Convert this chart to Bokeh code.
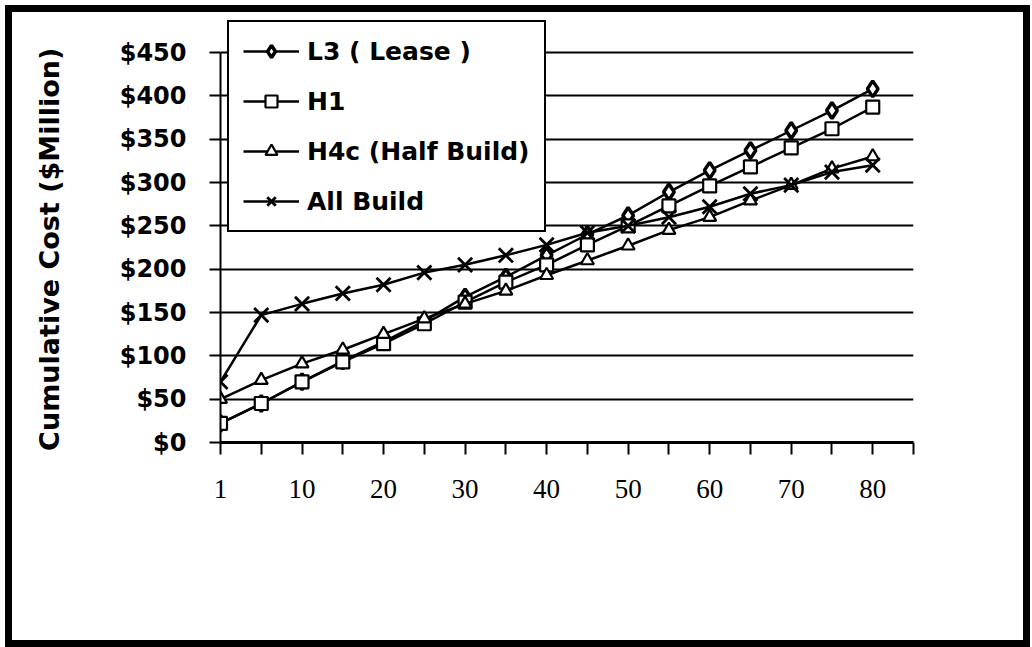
from bokeh.plotting import figure
from bokeh.models import Range1d, FixedTicker, Legend, LegendItem
from bokeh.embed import file_html
from bokeh.resources import INLINE

# ---- data ----
categories = [1, 5, 10, 15, 20, 25, 30, 35, 40, 45, 50, 55, 60, 65, 70, 75, 80]
tick_labels = ["1", "", "10", "", "20", "", "30", "", "40", "", "50", "", "60", "", "70", "", "80", ""]
l3_lease = [22, 45, 70, 94, 116, 140, 168, 191, 216, 240, 262, 289, 314, 337, 360, 383, 408]
h1 = [22, 45, 70, 93, 114, 137, 162, 185, 205, 228, 250, 273, 296, 318, 340, 362, 387]
h4c_half = [50, 72, 91, 107, 125, 143, 160, 175, 193, 210, 227, 245, 260, 279, 297, 316, 330]
all_build = [70, 147, 160, 172, 182, 196, 205, 216, 228, 242, 250, 260, 272, 287, 297, 312, 320]
y_ticks = [0, 50, 100, 150, 200, 250, 300, 350, 400, 450]
y_title = "Cumulative Cost ($Million)"

xs = list(range(len(categories)))
n_ticks = len(tick_labels)

W, H = 1025, 642
p = figure(width=W, height=H, output_backend="svg", toolbar_location=None,
           x_range=Range1d(0, n_ticks - 1), y_range=Range1d(0, 450 + 34 * 450 / 390),
           min_border_left=215, min_border_right=117, min_border_top=13, min_border_bottom=205)
p.styles = {"outline": "7px solid black", "outline-offset": "-7px",
            "margin-left": "5px", "margin-top": "5px"}
p.outline_line_color = None
p.background_fill_color = "white"
p.border_fill_alpha = 0

# grid
p.xgrid.grid_line_color = None
p.ygrid.grid_line_color = "black"
p.ygrid.grid_line_width = 2
p.ygrid.ticker = FixedTicker(ticks=y_ticks)

# y axis
p.yaxis.ticker = FixedTicker(ticks=y_ticks)
p.yaxis.bounds = (0, 450)
p.yaxis.major_label_overrides = {v: "${}".format(v) for v in y_ticks}
p.yaxis.major_label_text_font = "DejaVu Sans"
p.yaxis.major_label_text_font_style = "bold"
p.yaxis.major_label_text_font_size = "24px"
p.yaxis.major_label_text_color = "black"
p.yaxis.major_label_standoff = 23
p.yaxis.major_tick_out = 11
p.yaxis.major_tick_in = 0
p.yaxis.minor_tick_line_color = None
p.yaxis.major_tick_line_width = 2
p.yaxis.major_tick_line_color = "black"
p.yaxis.axis_line_width = 2
p.yaxis.axis_line_color = "black"
# trailing no-break spaces shift the visible title down to centre on the $0-$450 span
p.yaxis.axis_label = y_title + "\u00a0" * 4
p.yaxis.axis_label_text_font = "DejaVu Sans"
p.yaxis.axis_label_text_font_style = "bold"
p.yaxis.axis_label_text_font_size = "27px"
p.yaxis.axis_label_text_color = "black"
p.yaxis.axis_label_standoff = 52

# x axis
p.xaxis.ticker = FixedTicker(ticks=list(range(n_ticks)))
p.xaxis.major_label_overrides = {i: t for i, t in enumerate(tick_labels)}
p.xaxis.major_label_text_font = "Liberation Serif"
p.xaxis.major_label_text_font_style = "normal"
p.xaxis.major_label_text_font_size = "27px"
p.xaxis.major_label_text_color = "black"
p.xaxis.major_label_standoff = 25
p.xaxis.major_tick_out = 12
p.xaxis.major_tick_in = 0
p.xaxis.minor_tick_line_color = None
p.xaxis.major_tick_line_width = 2
p.xaxis.major_tick_line_color = "black"
p.xaxis.axis_line_width = 3
p.xaxis.axis_line_color = "black"

# series
series = [
    ("L3 ( Lease )", l3_lease, "diamond", 16, 3.5),
    ("H1", h1, "square", 13, 2.2),
    ("H4c (Half Build)", h4c_half, "triangle", 13, 2.2),
    ("All Build", all_build, "x", 20, 2.8),
]
items = []
for label, ys, marker, size, lw in series:
    ln = p.line(xs, ys, line_color="black", line_width=2.5)
    sc = p.scatter(xs, ys, marker=marker, size=size, fill_color="white",
                   line_color="black", line_width=lw)
    items.append(LegendItem(label=label, renderers=[ln, sc]))

legend = Legend(items=items, location=(7, 210))
legend.label_text_font = "DejaVu Sans"
legend.label_text_font_style = "bold"
legend.label_text_font_size = "25px"
legend.label_text_color = "black"
legend.glyph_width = 56
legend.glyph_height = 30
legend.label_standoff = 8
legend.spacing = 20
legend.padding = 14
legend.margin = 0
legend.border_line_color = "black"
legend.border_line_width = 2.5
legend.border_line_alpha = 1
legend.background_fill_color = "white"
legend.background_fill_alpha = 1
p.add_layout(legend)

open("out.html", "w").write(file_html(p, INLINE))
